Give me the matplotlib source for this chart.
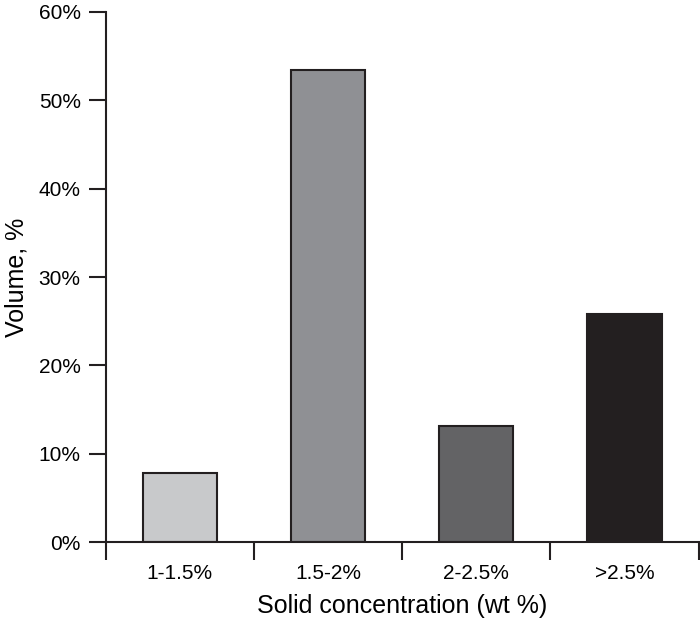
import numpy as np
import matplotlib
matplotlib.use('Agg')
import matplotlib.pyplot as plt
from matplotlib.ticker import PercentFormatter

# Data
categories = ['1-1.5%', '1.5-2%', '2-2.5%', '>2.5%']
volume_pct = [7.8, 53.4, 13.1, 25.8]
bar_colors = ['#c8c9cb', '#8f9094', '#636365', '#231f20']

plt.rcParams['font.family'] = ['Liberation Sans', 'DejaVu Sans']

fig = plt.figure(figsize=(7, 6.26), dpi=100)
ax = fig.add_axes([0.151, 0.134, 0.847, 0.847])

x = np.arange(len(categories))
ax.bar(x, volume_pct, width=0.5, color=bar_colors, edgecolor='#231f20', linewidth=1.5)

ax.set_xlim(-0.5, len(categories) - 0.5)
ax.set_ylim(0, 60)

# boundaries between categories get the tick marks, labels sit in the middle
ax.set_xticks(np.arange(-0.5, len(categories), 1.0))
ax.set_xticklabels([])
ax.set_xticks(x, minor=True)
ax.set_xticklabels(categories, minor=True)
ax.tick_params(axis='x', which='major', direction='out', length=13, width=1.5, color='#231f20')
ax.tick_params(axis='x', which='minor', length=0, labelsize=15, pad=16)

ax.set_yticks(np.arange(0, 61, 10))
ax.yaxis.set_major_formatter(PercentFormatter(decimals=0))
ax.tick_params(axis='y', direction='out', length=12, width=1.5, color='#231f20', labelsize=15, pad=6)

for side in ['top', 'right']:
    ax.spines[side].set_visible(False)
for side in ['left', 'bottom']:
    ax.spines[side].set_linewidth(1.5)
    ax.spines[side].set_color('#231f20')

ax.set_ylabel('Volume, %', fontsize=18, labelpad=7)
ax.set_xlabel('Solid concentration (wt %)', fontsize=18, labelpad=8)

plt.savefig('out.png', dpi=100)
